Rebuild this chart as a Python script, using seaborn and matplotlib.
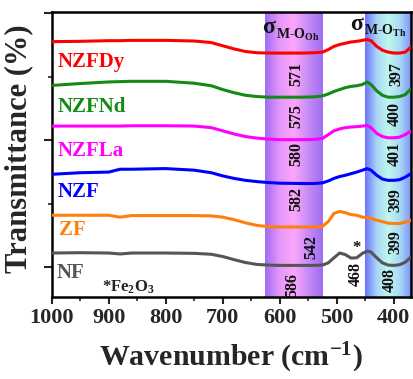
import numpy as np
import pandas as pd
import matplotlib
matplotlib.use("Agg")
import matplotlib.pyplot as plt
from matplotlib.colors import LinearSegmentedColormap
from matplotlib.ticker import MultipleLocator
import seaborn as sns

# --- data ---
wavenumber = [1000, 950, 900, 880, 860, 800, 750, 720, 700, 680, 660, 640, 620, 600,
              560, 540, 525, 515, 505, 495, 485, 475, 465, 455, 447, 440, 430, 420,
              410, 400, 390, 380, 370]

nf = [0.225, 0.23, 0.225, 0.21, 0.225, 0.225, 0.22, 0.205, 0.17, 0.12, 0.075, 0.045, 0.035, 0.03,
      0.03, 0.03, 0.035, 0.07, 0.15, 0.225, 0.2, 0.145, 0.15, 0.22, 0.255, 0.24, 0.15, 0.07,
      0.035, 0.03, 0.04, 0.08, 0.16]
zf = [0.82, 0.82, 0.82, 0.79, 0.815, 0.815, 0.815, 0.81, 0.79, 0.75, 0.7, 0.66, 0.64, 0.635,
      0.635, 0.635, 0.645, 0.72, 0.85, 0.88, 0.86, 0.83, 0.82, 0.79, 0.78, 0.77, 0.74, 0.72,
      0.695, 0.69, 0.69, 0.71, 0.74]
nzf = [1.465, 1.49, 1.5, 1.545, 1.545, 1.555, 1.53, 1.49, 1.44, 1.4, 1.37, 1.35, 1.335, 1.325,
       1.32, 1.32, 1.33, 1.36, 1.4, 1.43, 1.45, 1.475, 1.5, 1.53, 1.555, 1.53, 1.45, 1.39,
       1.37, 1.37, 1.38, 1.42, 1.475]
nzfla = [2.225, 2.225, 2.225, 2.225, 2.23, 2.23, 2.225, 2.2, 2.15, 2.1, 2.06, 2.035, 2.02, 2.01,
         2.01, 2.015, 2.03, 2.09, 2.15, 2.18, 2.2, 2.21, 2.215, 2.225, 2.235, 2.2, 2.11, 2.06,
         2.04, 2.04, 2.05, 2.09, 2.15]
nzfnd = [2.865, 2.895, 2.92, 2.925, 2.93, 2.93, 2.9, 2.86, 2.8, 2.75, 2.71, 2.69, 2.68, 2.68,
         2.68, 2.685, 2.7, 2.73, 2.77, 2.8, 2.83, 2.85, 2.86, 2.88, 2.92, 2.88, 2.78, 2.71,
         2.68, 2.68, 2.69, 2.72, 2.81]
nzfdy = [3.555, 3.56, 3.57, 3.57, 3.575, 3.575, 3.565, 3.54, 3.49, 3.44, 3.4, 3.38, 3.375, 3.375,
         3.375, 3.38, 3.39, 3.43, 3.48, 3.51, 3.53, 3.55, 3.56, 3.575, 3.59, 3.57, 3.48, 3.42,
         3.39, 3.375, 3.375, 3.39, 3.47]

samples = ["NF", "ZF", "NZF", "NZFLa", "NZFNd", "NZFDy"]
colors = ["#555555", "#ff7f0e", "#0000ff", "#ff00ff", "#138a13", "#ff0000"]
series = [nf, zf, nzf, nzfla, nzfnd, nzfdy]

# sample name labels (wavenumber, y)
name_pos = [(991, -0.09), (987, 0.58), (990, 1.185), (990, 1.84), (990, 2.52), (990, 3.23)]

# peak annotations
peak_text = ["571", "575", "580", "582", "586", "542", "468", "408",
             "397", "400", "401", "399", "399"]
peak_x = [571, 571, 571, 571, 578, 544, 467, 407, 395, 398, 398, 398, 398]
peak_y = [3.05, 2.39, 1.79, 1.07, -0.28, 0.32, -0.1, -0.2, 3.05, 2.42, 1.79, 1.06, 0.4]

oh_band = (625, 525)
th_band = (451, 370)

# --- style ---
sns.set_theme(style="ticks")
plt.rcParams["font.family"] = ["Liberation Serif", "DejaVu Serif"]
plt.rcParams["font.weight"] = "bold"
plt.rcParams["mathtext.fontset"] = "custom"
plt.rcParams["mathtext.rm"] = "Liberation Serif:bold"
plt.rcParams["mathtext.bf"] = "Liberation Serif:bold"
plt.rcParams["mathtext.it"] = "Liberation Serif:bold"

fig = plt.figure(figsize=(4.13, 3.79), dpi=100)
ax = fig.add_axes([0.125, 0.216, 0.87, 0.752])

ylo, yhi = -0.47, 4.02

# gradient bands
cm_oh = LinearSegmentedColormap.from_list("oh", ["#9f6cf6", "#e497f8", "#fba6fb", "#c68bf5", "#a06df4"])
cm_th = LinearSegmentedColormap.from_list("th", ["#6a74fb", "#a8d6f7", "#bff7ee", "#a9d8f6", "#7b90fb"])
grad = np.linspace(0, 1, 200).reshape(1, -1)
ax.imshow(grad, cmap=cm_oh, aspect="auto", extent=(oh_band[0], oh_band[1], ylo, yhi), zorder=0)
ax.imshow(grad, cmap=cm_th, aspect="auto", extent=(th_band[0], th_band[1], ylo, yhi), zorder=0)

for name, vals, c in zip(samples, series, colors):
    df = pd.DataFrame({"wn": wavenumber, "T": vals})
    sns.lineplot(data=df, x="wn", y="T", color=c, linewidth=2.2, ax=ax, zorder=3)

for name, c, (px, py) in zip(samples, colors, name_pos):
    ax.text(px, py, name, color=c, fontsize=15, fontweight="bold", va="center", ha="left")

ax.text(912, -0.31, r"*Fe$_2$O$_3$", color="#222222", fontsize=12, va="center", ha="left")

for t, px, py in zip(peak_text, peak_x, peak_y):
    ax.text(px, py, t, rotation=90, fontsize=11.5, fontweight="bold", color="#111111",
            ha="center", va="center", zorder=4)
ax.text(466, 0.31, "*", fontsize=12, fontweight="bold", ha="center", va="center", color="#111111")

# sigma labels
ax.text(631, 3.78, "σ", fontsize=17, ha="left", va="center", color="#111111")
ax.text(607, 3.66, r"M-O$_{Oh}$", fontsize=10, ha="left", va="center", color="#111111")
ax.text(476, 3.83, "σ", fontsize=17, ha="left", va="center", color="#111111")
ax.text(453, 3.72, r"M-O$_{Th}$", fontsize=10, ha="left", va="center", color="#111111")

ax.set_xlim(1000, 370)
ax.set_ylim(ylo, yhi)
ax.xaxis.set_major_locator(MultipleLocator(100))
ax.xaxis.set_minor_locator(MultipleLocator(50))
ax.yaxis.set_major_locator(MultipleLocator(2))
ax.yaxis.set_minor_locator(MultipleLocator(1))
ax.set_yticklabels([])
ax.tick_params(axis="x", which="major", length=5, width=1.5, labelsize=16, pad=3)
ax.tick_params(axis="x", which="minor", length=3, width=1.2, bottom=True)
ax.tick_params(axis="y", which="major", length=6, width=1.5)
ax.tick_params(axis="y", which="minor", length=3, width=1.2, left=True)
for lab in ax.get_xticklabels():
    lab.set_fontweight("bold")
for s in ax.spines.values():
    s.set_linewidth(1.8)
    s.set_color("black")

ax.set_xlabel(r"Wavenumber (cm$^{-1}$)", fontsize=21.5, fontweight="bold")
ax.xaxis.set_label_coords(0.5, -0.155)
ax.set_ylabel("Transmittance (%)", fontsize=22, fontweight="bold")
ax.yaxis.set_label_coords(-0.05, 0.52)

fig.savefig("out.png", dpi=100)
